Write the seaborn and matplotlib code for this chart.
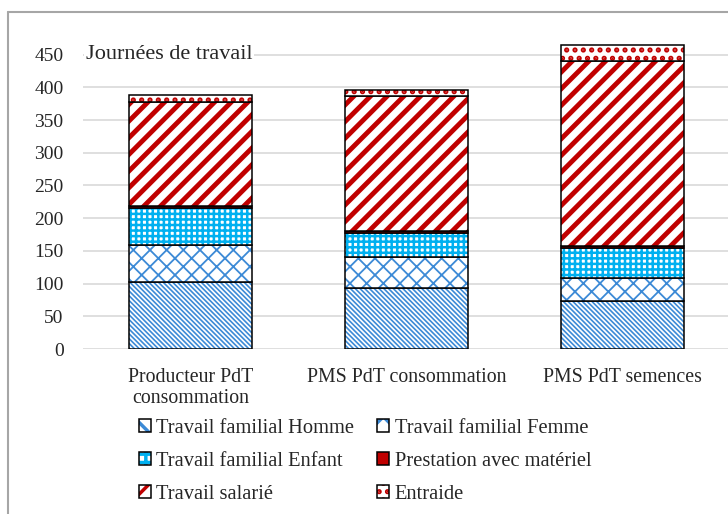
import numpy as np
import matplotlib.pyplot as plt
import seaborn as sns
from matplotlib.lines import Line2D
from matplotlib.patches import Patch
from matplotlib.legend_handler import HandlerTuple

# donnees (journees de travail)
categories = ["Producteur PdT\nconsommation", "PMS PdT consommation", "PMS PdT semences"]
homme = [103, 93, 74]
femme = [56, 48, 34]
enfant = [57, 37, 47]
prestation = [2, 2, 2]
salarie = [159, 206, 283]
entraide = [12, 10, 24]

# nom, valeurs, couleur, motif barre, epaisseur motif, motif legende
series = [
    ("Travail familial Homme", homme, "#3C8AD6", "\\" * 7, 1.2, "\\\\"),
    ("Travail familial Femme", femme, "#3C8AD6", "xx", 1.3, "x"),
    ("Travail familial Enfant", enfant, "#00B0F0", "+++", 1.8, "++"),
    ("Prestation avec matériel", prestation, "#C00000", None, 1.0, None),
    ("Travail salarié", salarie, "#C00000", "//", 3.5, "/"),
    ("Entraide", entraide, "#C00000", "..", 2.5, ".."),
]

sns.set_style("white")
plt.rcParams["font.family"] = ["Liberation Serif", "DejaVu Serif"]

fig = plt.figure(figsize=(7.28, 5.14), dpi=100)
ax = fig.add_axes([83 / 728, 1 - 349 / 514, 647 / 728, 314 / 514])

bottom = np.zeros(len(categories))
handles = {}
for nom, vals, couleur, hatch, hlw, hatch_leg in series:
    plt.rcParams["hatch.linewidth"] = hlw
    sns.barplot(x=categories, y=vals, bottom=bottom, color="white", width=0.57,
                errorbar=None, ax=ax)
    for p in ax.containers[-1]:
        if hatch is None:
            p.set_facecolor(couleur)
            p.set_edgecolor(couleur)
        else:
            p.set_facecolor("white")
            p.set_edgecolor(couleur)
            p.set_hatch(hatch)
        p.set_linewidth(0)
    sns.barplot(x=categories, y=vals, bottom=bottom, color="white", width=0.57,
                errorbar=None, ax=ax)
    for p in ax.containers[-1]:
        p.set_facecolor("none")
        p.set_edgecolor("black")
        p.set_linewidth(1.1)
    # marqueur de legende
    if hatch_leg is None:
        fond = Patch(facecolor=couleur, edgecolor=couleur, linewidth=0)
    else:
        fond = Patch(facecolor="white", edgecolor=couleur, hatch=hatch_leg, linewidth=0)
    handles[nom] = (fond, Patch(facecolor="none", edgecolor="black", linewidth=1.1))
    bottom = bottom + np.array(vals)

ax.set_ylim(0, 480)
ax.set_xlim(-0.5, 2.5)
ax.set_yticks(range(0, 451, 50))
ax.yaxis.grid(True, color="#D9D9D9", linewidth=1.2)
ax.set_axisbelow(True)
for s in ax.spines.values():
    s.set_visible(False)
ax.tick_params(axis="y", length=0, pad=14, labelsize=14)
ax.tick_params(axis="x", length=0, pad=13.5, labelsize=14.3)
ax.set_xlabel("")
ax.set_ylabel("")
for lab in ax.get_xticklabels():
    lab.set_linespacing(1.18)

ax.text(0.004, 450, "Journées de travail", fontsize=16, va="center", ha="left",
        transform=ax.get_yaxis_transform(),
        bbox=dict(facecolor="white", edgecolor="none", pad=1))

ordre = ["Travail familial Homme", "Travail familial Enfant", "Travail salarié",
         "Travail familial Femme", "Prestation avec matériel", "Entraide"]
ax.legend([handles[n] for n in ordre], ordre, ncol=2, frameon=False,
          loc="upper left", bbox_to_anchor=(139 / 728, 1 - 419 / 514),
          bbox_transform=fig.transFigure, borderpad=0, borderaxespad=0,
          fontsize=14.8, handlelength=0.6, handleheight=0.6, handletextpad=0.25,
          columnspacing=1.1, labelspacing=0.68,
          handler_map={tuple: HandlerTuple(ndivide=1, pad=0)})

# cadre gris du graphique
fig.add_artist(Line2D([8 / 728, 8 / 728], [0, 1 - 12 / 514], color="#A6A6A6", linewidth=1.5))
fig.add_artist(Line2D([8 / 728, 1], [1 - 12 / 514, 1 - 12 / 514], color="#A6A6A6", linewidth=1.5))

fig.savefig("out.png", dpi=100)
